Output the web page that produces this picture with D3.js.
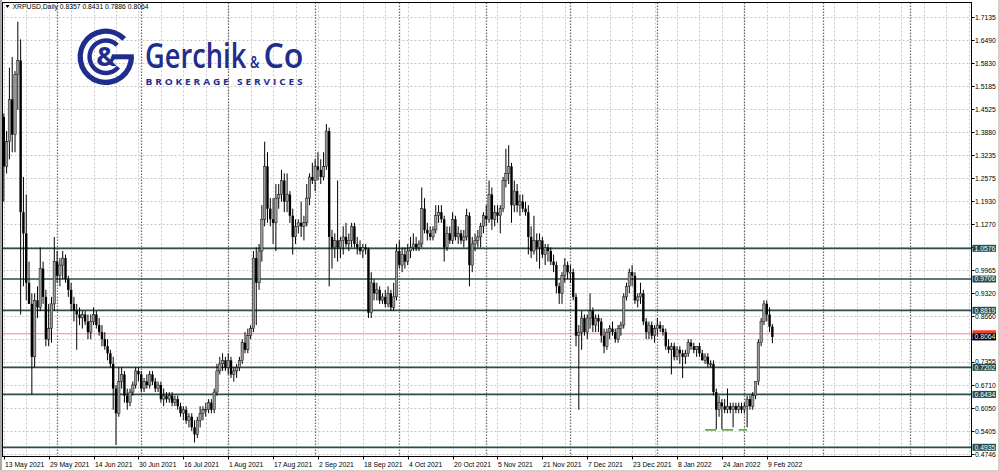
<!DOCTYPE html>
<html><head><meta charset="utf-8">
<script src="https://cdn.jsdelivr.net/npm/d3@7"></script>
<style>body{margin:0;background:#fff}svg{display:block}</style>
</head><body>
<svg id="c" width="1000" height="472"></svg>
<script>
const symbolTitle = "XRPUSD,Daily";
const startDate = "2021-05-13";
const opens  = [1.43,1.29,1.36,1.48,1.38,1.55,1.59,1.16,1.10,0.96,0.90,0.75,0.91,0.89,1.00,0.92,0.80,0.83,0.90,1.02,0.98,1.01,1.03,0.97,0.94,0.90,0.88,0.87,0.86,0.87,0.85,0.82,0.85,0.87,0.84,0.82,0.80,0.78,0.76,0.73,0.66,0.59,0.68,0.70,0.64,0.62,0.65,0.67,0.71,0.70,0.66,0.68,0.67,0.70,0.68,0.66,0.67,0.63,0.64,0.63,0.64,0.62,0.63,0.61,0.59,0.60,0.57,0.58,0.55,0.53,0.57,0.59,0.60,0.60,0.62,0.60,0.65,0.71,0.73,0.74,0.72,0.74,0.70,0.71,0.72,0.74,0.79,0.77,0.81,0.83,1.03,0.96,1.05,1.14,1.29,1.17,1.14,1.13,1.20,1.21,1.25,1.19,1.21,1.15,1.09,1.12,1.13,1.12,1.13,1.20,1.26,1.25,1.29,1.28,1.26,1.29,1.39,1.09,1.06,1.08,1.06,1.08,1.09,1.07,1.08,1.12,1.07,1.06,1.05,1.06,1.055,0.875,0.96,0.93,0.94,0.91,0.92,0.90,0.93,0.89,0.92,1.05,1.01,1.04,1.02,1.05,1.06,1.07,1.06,1.07,1.17,1.11,1.10,1.09,1.11,1.15,1.16,1.14,1.06,1.10,1.08,1.14,1.09,1.10,1.08,1.09,1.15,1.01,1.07,1.08,1.09,1.12,1.15,1.14,1.21,1.14,1.16,1.15,1.17,1.25,1.27,1.29,1.18,1.22,1.18,1.19,1.17,1.16,1.09,1.05,1.08,1.06,1.08,1.04,1.06,1.05,1.02,1.01,0.95,0.93,0.98,1.01,0.99,0.99,0.92,0.81,0.82,0.86,0.82,0.86,0.88,0.84,0.86,0.85,0.81,0.78,0.82,0.83,0.82,0.80,0.83,0.84,0.92,0.95,0.99,0.98,0.91,0.92,0.93,0.85,0.82,0.84,0.81,0.83,0.84,0.83,0.82,0.78,0.77,0.78,0.75,0.77,0.76,0.75,0.76,0.79,0.78,0.77,0.78,0.76,0.74,0.75,0.73,0.73,0.65,0.60,0.62,0.61,0.60,0.61,0.60,0.61,0.60,0.61,0.60,0.61,0.63,0.61,0.64,0.68,0.79,0.85,0.90,0.87,0.8357];
const highs  = [1.44,1.39,1.57,1.60,1.56,1.70,1.65,1.26,1.21,1.02,0.93,0.93,0.95,1.06,1.02,0.94,0.90,0.92,1.09,1.05,1.03,1.05,1.04,0.98,0.96,0.92,0.90,0.89,0.88,0.88,0.87,0.87,0.89,0.88,0.86,0.84,0.82,0.80,0.77,0.75,0.67,0.72,0.72,0.71,0.66,0.66,0.68,0.72,0.72,0.71,0.69,0.70,0.71,0.71,0.69,0.68,0.68,0.66,0.65,0.65,0.65,0.64,0.64,0.62,0.61,0.61,0.59,0.59,0.57,0.58,0.61,0.61,0.62,0.63,0.63,0.66,0.73,0.75,0.76,0.75,0.76,0.75,0.72,0.73,0.75,0.80,0.82,0.83,0.84,1.05,1.06,1.07,1.18,1.36,1.33,1.20,1.20,1.24,1.24,1.28,1.27,1.27,1.22,1.17,1.14,1.14,1.19,1.15,1.24,1.27,1.30,1.31,1.33,1.31,1.33,1.41,1.40,1.11,1.10,1.25,1.09,1.12,1.13,1.10,1.13,1.13,1.09,1.08,1.07,1.07,1.06,0.99,0.97,0.96,0.95,0.93,0.94,0.95,0.94,0.96,1.07,1.08,1.06,1.06,1.07,1.09,1.10,1.09,1.08,1.23,1.20,1.13,1.12,1.12,1.18,1.18,1.18,1.15,1.12,1.12,1.16,1.15,1.12,1.11,1.11,1.17,1.16,1.09,1.10,1.11,1.13,1.16,1.18,1.25,1.23,1.18,1.18,1.18,1.26,1.34,1.35,1.30,1.25,1.24,1.21,1.21,1.19,1.18,1.12,1.15,1.10,1.10,1.09,1.07,1.07,1.06,1.04,1.02,0.96,0.99,1.03,1.02,1.01,1.00,0.93,0.84,0.88,0.87,0.87,0.93,0.89,0.87,0.87,0.86,0.83,0.83,0.84,0.85,0.83,0.84,0.85,0.93,0.96,1.00,1.01,0.99,0.93,0.96,0.94,0.86,0.85,0.85,0.84,0.86,0.85,0.84,0.83,0.80,0.79,0.79,0.78,0.78,0.77,0.77,0.80,0.80,0.79,0.78,0.79,0.77,0.76,0.76,0.74,0.74,0.66,0.64,0.63,0.63,0.66,0.62,0.62,0.62,0.62,0.62,0.62,0.64,0.64,0.65,0.68,0.80,0.86,0.91,0.91,0.89,0.8431];
const lows   = [1.19,1.27,1.31,1.33,1.33,1.45,0.87,0.95,0.91,0.90,0.643,0.72,0.86,0.88,0.90,0.78,0.78,0.79,0.88,0.96,0.95,0.97,0.96,0.92,0.88,0.85,0.77,0.84,0.83,0.84,0.80,0.80,0.84,0.83,0.81,0.78,0.77,0.74,0.72,0.60,0.50,0.58,0.66,0.62,0.60,0.61,0.64,0.66,0.68,0.65,0.65,0.66,0.66,0.67,0.65,0.65,0.62,0.61,0.62,0.62,0.61,0.61,0.60,0.58,0.57,0.56,0.55,0.54,0.507,0.52,0.55,0.57,0.58,0.59,0.59,0.59,0.64,0.70,0.71,0.71,0.70,0.69,0.68,0.69,0.71,0.73,0.76,0.76,0.80,0.82,0.84,0.94,1.02,1.12,1.13,1.12,1.07,1.05,1.17,1.19,1.16,1.16,1.13,1.04,1.07,1.10,1.09,1.08,1.12,1.18,1.24,1.22,1.25,1.24,1.25,1.28,0.95,1.00,1.03,1.02,1.03,1.04,1.06,1.05,1.06,1.06,1.04,1.04,1.03,1.04,0.86,0.86,0.91,0.91,0.90,0.90,0.89,0.89,0.88,0.88,0.91,1.00,0.99,1.00,1.01,1.03,1.05,1.05,1.05,1.06,1.10,1.08,1.08,1.08,1.10,1.13,1.13,1.02,1.05,1.07,1.07,1.08,1.07,1.07,1.06,1.08,0.95,0.99,1.05,1.06,1.06,1.10,1.12,1.13,1.11,1.12,1.13,1.10,1.16,1.23,1.24,1.13,1.16,1.16,1.15,1.16,1.15,1.04,1.03,1.04,1.02,1.00,1.03,1.01,1.02,1.01,0.99,0.93,0.90,0.90,0.96,0.97,0.96,0.91,0.78,0.60,0.77,0.81,0.80,0.83,0.82,0.82,0.82,0.79,0.76,0.77,0.80,0.81,0.79,0.79,0.81,0.83,0.91,0.93,0.95,0.90,0.89,0.90,0.84,0.80,0.80,0.80,0.79,0.81,0.82,0.81,0.77,0.76,0.70,0.74,0.74,0.73,0.69,0.73,0.75,0.77,0.76,0.75,0.75,0.74,0.73,0.72,0.72,0.64,0.545,0.58,0.545,0.59,0.59,0.59,0.55,0.59,0.59,0.59,0.59,0.55,0.60,0.60,0.63,0.67,0.78,0.84,0.85,0.82,0.7886];
const closes = [1.29,1.36,1.48,1.38,1.55,1.59,1.16,1.10,0.96,0.90,0.75,0.91,0.89,1.00,0.92,0.80,0.83,0.90,1.02,0.98,1.01,1.03,0.97,0.94,0.90,0.88,0.87,0.86,0.87,0.85,0.82,0.85,0.87,0.84,0.82,0.80,0.78,0.76,0.73,0.66,0.59,0.68,0.70,0.64,0.62,0.65,0.67,0.71,0.70,0.66,0.68,0.67,0.70,0.68,0.66,0.67,0.63,0.64,0.63,0.64,0.62,0.63,0.61,0.59,0.60,0.57,0.58,0.55,0.53,0.57,0.59,0.60,0.60,0.62,0.60,0.65,0.71,0.73,0.74,0.72,0.74,0.70,0.71,0.72,0.74,0.79,0.77,0.81,0.83,1.03,0.96,1.05,1.14,1.29,1.17,1.14,1.13,1.20,1.21,1.25,1.19,1.21,1.15,1.09,1.12,1.13,1.12,1.13,1.20,1.26,1.25,1.29,1.28,1.26,1.29,1.39,1.09,1.06,1.08,1.06,1.08,1.09,1.07,1.08,1.12,1.07,1.06,1.05,1.06,1.055,0.875,0.96,0.93,0.94,0.91,0.92,0.90,0.93,0.89,0.92,1.05,1.01,1.04,1.02,1.05,1.06,1.07,1.06,1.07,1.17,1.11,1.10,1.09,1.11,1.15,1.16,1.14,1.06,1.10,1.08,1.14,1.09,1.10,1.08,1.09,1.15,1.01,1.07,1.08,1.09,1.12,1.15,1.14,1.21,1.14,1.16,1.15,1.17,1.25,1.27,1.29,1.18,1.22,1.18,1.19,1.17,1.16,1.09,1.05,1.08,1.06,1.08,1.04,1.06,1.05,1.02,1.01,0.95,0.93,0.98,1.01,0.99,0.99,0.92,0.81,0.82,0.86,0.82,0.86,0.88,0.84,0.86,0.85,0.81,0.78,0.82,0.83,0.82,0.80,0.83,0.84,0.92,0.95,0.99,0.98,0.91,0.92,0.93,0.85,0.82,0.84,0.81,0.83,0.84,0.83,0.82,0.78,0.77,0.78,0.75,0.77,0.76,0.75,0.76,0.79,0.78,0.77,0.78,0.76,0.74,0.75,0.73,0.73,0.65,0.60,0.62,0.61,0.60,0.61,0.60,0.61,0.60,0.61,0.60,0.61,0.63,0.61,0.64,0.68,0.79,0.85,0.90,0.87,0.8357,0.8064];
const yTickLabels = ["1.7135","1.6490","1.5830","1.5185","1.4525","1.3880","1.3235","1.2575","1.1930","1.1270","1.0615","0.9965","0.9320","0.8660","0.8005","0.7355","0.6710","0.6050","0.5405","0.4746"];
const xTickLabels = ["13 May 2021","29 May 2021","14 Jun 2021","30 Jun 2021","16 Jul 2021","1 Aug 2021","17 Aug 2021","2 Sep 2021","18 Sep 2021","4 Oct 2021","20 Oct 2021","5 Nov 2021","21 Nov 2021","7 Dec 2021","23 Dec 2021","8 Jan 2022","24 Jan 2022","9 Feb 2022"];
const levelValues = [1.0576, 0.9706, 0.8819, 0.7202, 0.6434, 0.4935];
const levelLabels = ["1.0576","0.9706","0.8819","0.7202","0.6434","0.4935"];
const askValue = 0.8154;
const bidValue = 0.8064;
const bidLabel = "0.8064";
const bottomMarkValue = 0.543;
const bottomMarkDays = [["2022-01-18","2022-01-22"],["2022-01-24","2022-01-28"],["2022-01-30","2022-02-02"]];
const monthStarts = ["2021-06-01","2021-07-01","2021-08-01","2021-09-01","2021-10-01","2021-11-01","2021-12-01","2022-01-01","2022-02-01","2022-03-01","2022-04-01"];

const svg = d3.select("#c");
const W = 1000, H = 472;
const plot = {l: 2.5, t: 2.5, r: 971.5, b: 456.5};
const FONT = "'Liberation Sans', Arial, sans-serif";
const FS = 6.8;
const navy = "#1f2d8c";
const levelColor = "#2b4c4a";

const parseISO = d3.utcParse("%Y-%m-%d");
const parseLbl = d3.utcParse("%e %b %Y");
const d0 = parseISO(startDate);
const dates = d3.utcDay.range(d0, d3.utcDay.offset(d0, closes.length));
const candles = dates.map((d,i)=>({date:d,o:opens[i],h:highs[i],l:lows[i],c:closes[i]}));

const x = d3.scaleUtc().domain([dates[0], dates[dates.length-1]]).range([3.8, 3.8 + 2.805*(dates.length-1)]);
const y = d3.scaleLinear().domain([0.4688, 1.7532]).range([456, 3]);

// background frame
svg.append("rect").attr("width",W).attr("height",H).attr("fill","#fff");
svg.append("rect").attr("x",0).attr("y",0).attr("width",2).attr("height",H).attr("fill","#a8a8a8");
svg.append("rect").attr("x",998).attr("y",0).attr("width",2).attr("height",H).attr("fill","#d4d0c8");
svg.append("rect").attr("x",0).attr("y",470).attr("width",W).attr("height",2).attr("fill","#d4d0c8");

const g = svg.append("g");
svg.append("clipPath").attr("id","pc").append("rect")
  .attr("x",plot.l).attr("y",plot.t).attr("width",plot.r-plot.l).attr("height",plot.b-plot.t);

// grid: horizontal at ticks
const gridG = g.append("g").attr("clip-path","url(#pc)");
yTickLabels.forEach(t=>{
  const yy = Math.round(y(+t))+0.5;
  gridG.append("line").attr("x1",plot.l).attr("x2",plot.r).attr("y1",yy).attr("y2",yy)
    .attr("stroke","#c8c8c8").attr("stroke-width",1).attr("stroke-dasharray","2,2");
});
// vertical grid every 8 days
const endDate = x.invert(plot.r);
const gridDays = d3.utcDay.range(d0, endDate).filter((d,i)=> i % 8 === 0);
gridDays.forEach(d=>{
  const xx = Math.round(x(d))+0.5;
  gridG.append("line").attr("x1",xx).attr("x2",xx).attr("y1",plot.t).attr("y2",plot.b)
    .attr("stroke","#c8c8c8").attr("stroke-width",1).attr("stroke-dasharray","2,2");
});
// month separators
monthStarts.map(parseISO).filter(d=>x(d)<plot.r).forEach(d=>{
  const xx = Math.round(x(d))+0.5;
  gridG.append("line").attr("x1",xx).attr("x2",xx).attr("y1",plot.t).attr("y2",plot.b)
    .attr("stroke","#6e6e6e").attr("stroke-width",1.3).attr("stroke-dasharray","1.5,1.5");
});

// level lines
levelValues.forEach(v=>{
  gridG.append("line").attr("x1",plot.l).attr("x2",plot.r).attr("y1",y(v)).attr("y2",y(v))
    .attr("stroke",levelColor).attr("stroke-width",1.7);
});
// ask line (red)
gridG.append("line").attr("x1",plot.l).attr("x2",plot.r).attr("y1",y(askValue)).attr("y2",y(askValue))
  .attr("stroke","#f28b82").attr("stroke-width",1.2);

// green bottom marks
bottomMarkDays.forEach(([a,b])=>{
  gridG.append("line").attr("x1",x(parseISO(a))).attr("x2",x(parseISO(b)))
    .attr("y1",y(bottomMarkValue)).attr("y2",y(bottomMarkValue))
    .attr("stroke","#6aa84f").attr("stroke-width",1.6);
});

// logo
const logo = g.append("g");
const cx = 105.8, cy = 56.8;
const arc = d3.arc();
logo.append("path").attr("transform",`translate(${cx},${cy})`)
  .attr("d", arc({innerRadius:23, outerRadius:28.3, startAngle:Math.PI/2, endAngle:2*Math.PI+0.80}))
  .attr("fill",navy);
logo.append("rect").attr("x",cx+6).attr("y",cy-2.5).attr("width",22).attr("height",5).attr("fill",navy);
logo.append("path").attr("transform",`translate(${cx},${cy})`)
  .attr("d", arc({innerRadius:14, outerRadius:18.5, startAngle:Math.PI*0.72, endAngle:2*Math.PI+0.78}))
  .attr("fill",navy);
logo.append("text").attr("x",cx+0.5).attr("y",cy+9.5).attr("text-anchor","middle")
  .attr("font-family","'Open Sans', 'DejaVu Sans', sans-serif").attr("font-weight",700).attr("font-size",27)
  .attr("fill",navy).text("&");
const brandFont = "'Open Sans', sans-serif";
// fit a text to a given width by a horizontal scale, so that its box is its drawn size
function fitText(str, x0, base, size, weight, width, sy, spacing){
  const t = logo.append("text").attr("x",0).attr("y",0).attr("font-family",brandFont)
    .attr("font-weight",weight).attr("font-size",size).attr("fill",navy);
  if(spacing) t.attr("letter-spacing",spacing);
  t.text(str);
  const bb = t.node().getBBox();
  t.attr("transform",`translate(${x0},${base}) scale(${width/bb.width},${sy})`);
  return t;
}
fitText("Gerchik", 145, 67.5, 30, 600, 102, 1.12);
fitText("&", 250, 67.5, 14, 600, 10, 1.15);
fitText("Co", 263.5, 67.5, 30, 600, 40, 1.12);
fitText("BROKERAGE SERVICES", 145.5, 85.3, 7.8, 700, 160, 1.05, 2.2);

// candles
const cg = g.append("g").attr("clip-path","url(#pc)");
cg.selectAll("line.w").data(candles).join("line").attr("class","w")
  .attr("x1",d=>x(d.date)).attr("x2",d=>x(d.date))
  .attr("y1",d=>y(d.h)).attr("y2",d=>y(d.l))
  .attr("stroke","#000").attr("stroke-width",1);
cg.selectAll("rect.b").data(candles).join("rect").attr("class","b")
  .attr("x",d=>x(d.date)-1.2).attr("width",2.4)
  .attr("y",d=>y(Math.max(d.o,d.c)))
  .attr("height",d=>Math.max(1,Math.abs(y(d.o)-y(d.c))))
  .attr("fill",d=>d.c>=d.o?"#9a9a9a":"#000")
  .attr("stroke",d=>d.c>=d.o?"#111":"none").attr("stroke-width",0.5);

// frame
g.append("rect").attr("x",plot.l).attr("y",plot.t).attr("width",plot.r-plot.l).attr("height",plot.b-plot.t)
  .attr("fill","none").attr("stroke","#000").attr("stroke-width",1);

// y axis labels (those fully hidden under a price box are not drawn, as in the reference)
const ax = g.append("g").attr("font-family",FONT).attr("font-size",FS);
const boxValues = levelValues.concat([askValue, bidValue]);
yTickLabels.forEach(t=>{
  const yy = Math.round(y(+t))+0.5;
  ax.append("line").attr("x1",plot.r).attr("x2",plot.r+3).attr("y1",yy).attr("y2",yy).attr("stroke","#000");
  const covered = boxValues.some(v=>Math.abs(y(v)-y(+t))<4);
  const nearAbove = boxValues.some(v=>{const dd=y(v)-y(+t); return dd>=4 && dd<7;});
  if(!covered) ax.append("text").attr("x",975).attr("y",yy+2.2-(nearAbove?1:0)).attr("fill","#000").text(t);
});
// price boxes
function priceBox(v, label, fill){
  const yy = y(v);
  ax.append("rect").attr("x",972.5).attr("y",yy-3.5).attr("width",23.5).attr("height",7).attr("fill",fill);
  if(label) ax.append("text").attr("x",974.5).attr("y",yy+2.3).attr("fill","#fff").text(label);
}
levelValues.forEach((v,i)=>priceBox(v, levelLabels[i], levelColor));
priceBox(askValue, null, "#f2412a");
priceBox(bidValue, bidLabel, "#000");

// x axis labels
xTickLabels.forEach(t=>{
  const d = parseLbl(t);
  const xx = Math.round(x(d))+0.5;
  ax.append("line").attr("x1",xx).attr("x2",xx).attr("y1",plot.b).attr("y2",plot.b+3).attr("stroke","#000");
  ax.append("text").attr("x",xx+0.5).attr("y",466.5).attr("fill","#000").text(t);
});

// title
const tg = g.append("g").attr("font-family",FONT).attr("font-size",FS);
tg.append("path").attr("d","M5.5,5 L9.5,5 L7.5,8 Z").attr("fill","#000");
tg.append("text").attr("x",12.5).attr("y",9.3).attr("fill","#000")
  .text(symbolTitle + "  " + [opens[opens.length-1],highs[highs.length-1],lows[lows.length-1],closes[closes.length-1]].map(v=>v.toFixed(4)).join(" "));
</script>
</body></html>
